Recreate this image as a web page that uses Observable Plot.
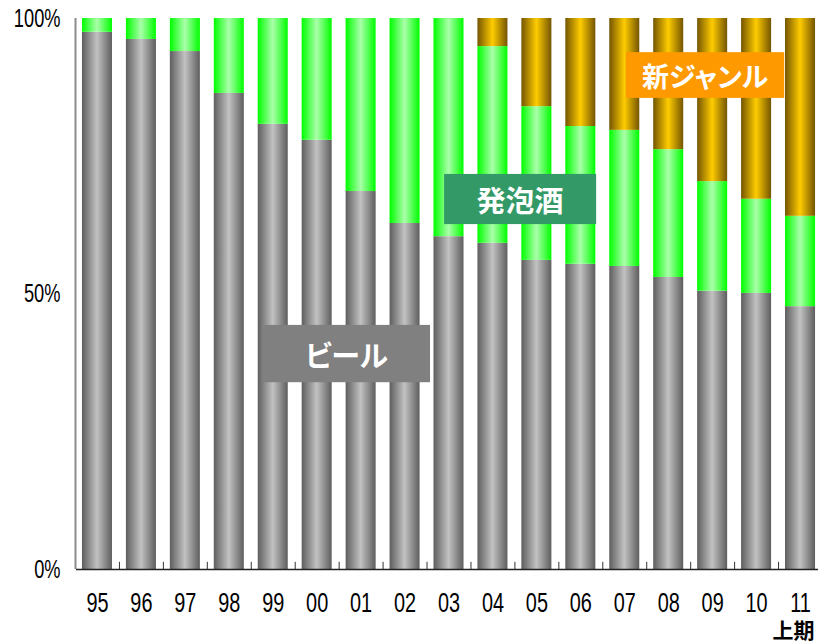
<!DOCTYPE html>
<html>
<head>
<meta charset="utf-8">
<script src="https://cdn.jsdelivr.net/npm/d3@7"></script>
<script src="https://cdn.jsdelivr.net/npm/@observablehq/plot@0.6"></script>
<style>
  html, body { margin: 0; padding: 0; background: #fff; }
  #chart { width: 818px; height: 642px; }
</style>
</head>
<body>
<div id="chart"></div>
<script>
// Category labels (fiscal years, '11 = first half)
const years = ["95","96","97","98","99","00","01","02","03","04","05","06","07","08","09","10","11"];
// Market share (%)
const beer      = [97.5, 96.2, 94.0, 86.4, 80.8, 77.9, 68.6, 62.8, 60.4, 59.2, 56.1, 55.4, 55.0, 53.0, 50.5, 50.1, 47.7];
const happoshu  = [ 2.5,  3.8,  6.0, 13.6, 19.2, 22.1, 31.4, 37.2, 39.6, 35.7, 27.9, 25.0, 24.7, 23.2, 19.9, 17.1, 16.4];
const shinGenre = [ 0.0,  0.0,  0.0,  0.0,  0.0,  0.0,  0.0,  0.0,  0.0,  5.1, 16.0, 19.6, 20.3, 23.8, 29.6, 32.8, 35.9];
// Y tick values
const yTicks = [0, 50, 100];
const seriesNames = ["ビール", "発泡酒", "新ジャンル"];
const subLabel = "上期";

const rows = years.map((year, i) => ({
  year,
  beer: beer[i],
  happo: happoshu[i],
  shin: shinGenre[i]
}));

const W = 818, H = 642;
const mTop = 18, mBottom = 73, mLeft = 76;
const xRange = [75, 822];
const step = (xRange[1] - xRange[0]) / years.length;
const gap = step * 0.317 / 2;

const sans = "'Liberation Sans', Arial, sans-serif";

const plot = Plot.plot({
  width: W,
  height: H,
  marginTop: mTop,
  marginBottom: mBottom,
  marginLeft: mLeft,
  marginRight: 0,
  style: { fontFamily: sans, background: "white", overflow: "visible" },
  x: { type: "band", domain: years, range: xRange, padding: 0, round: false, label: null },
  y: { domain: [0, 100], label: null },
  marks: [
    Plot.barY(rows, { x: "year", y1: 0, y2: "beer", fill: "url(#gGray)", insetLeft: gap, insetRight: gap }),
    Plot.barY(rows, { x: "year", y1: d => d.beer, y2: d => d.beer + d.happo, fill: "url(#gGreen)", insetLeft: gap, insetRight: gap }),
    Plot.barY(rows, { x: "year", y1: d => d.beer + d.happo, y2: d => d.beer + d.happo + d.shin, fill: "url(#gGold)", insetLeft: gap, insetRight: gap }),
    // y axis line at the left band boundary
    Plot.ruleX([years[0]], { x: d => d, y1: 0, y2: 100, dx: -step / 2, stroke: "#8c8c8c", strokeWidth: 2 }),
    // small ticks between categories
    Plot.ruleX(years.slice(1), { x: d => d, y1: 0, y2: 1.3, dx: -step / 2, stroke: "#333", strokeWidth: 1 }),
    Plot.ruleY([0], { stroke: "#222", strokeWidth: 1.5 }),
    Plot.axisY({ ticks: yTicks, tickFormat: d => d + "%", tickSize: 0, tickPadding: 16, fontSize: 25, fill: "#000" }),
    Plot.axisX({ tickSize: 0, tickPadding: 23, fontSize: 28, fill: "#000" }),
    Plot.text([subLabel], { x: () => years[years.length - 1], y: -11.2, dx: -7, text: d => d,
      fontSize: 21, fontWeight: "bold", fontFamily: "'Noto Sans CJK JP', sans-serif", fill: "#000" })
  ]
});

const svg = d3.select(plot);
const defs = svg.insert("defs", ":first-child");
function grad(id, edge, mid) {
  const g = defs.append("linearGradient").attr("id", id).attr("x1", "0%").attr("x2", "100%").attr("y1", "0%").attr("y2", "0%");
  g.append("stop").attr("offset", "0%").attr("stop-color", edge);
  g.append("stop").attr("offset", "50%").attr("stop-color", mid);
  g.append("stop").attr("offset", "100%").attr("stop-color", edge);
}
grad("gGray", "#5e5e5e", "#c2c2c2");
grad("gGreen", "#00ff00", "#aaffaa");
grad("gGold", "#745500", "#ffcc00");

// condense the axis tick labels horizontally (narrow font look)
svg.selectAll("g[aria-label='x-axis tick label'] text")
  .each(function () {
    const t = this.getAttribute("transform") || "";
    this.setAttribute("transform", t + " scale(0.71,1)");
  });
svg.selectAll("g[aria-label='y-axis tick label'] text")
  .each(function () {
    const t = this.getAttribute("transform") || "";
    this.setAttribute("transform", t + " scale(0.73,1)");
  });

// Series name labels (annotation boxes), positioned in band-step / percent units
const xs = plot.scale("x");
const ys = plot.scale("y");
const x0 = xs.range[0];
const annots = [
  { text: seriesNames[0], u1: 4.28, u2: 8.08, v1: 44.3, v2: 33.9, fill: "#808080", size: 29 },
  { text: seriesNames[1], u1: 8.40, u2: 11.86, v1: 71.7, v2: 62.6, fill: "#339966", size: 29 },
  { text: seriesNames[2], u1: 12.54, u2: 16.14, v1: 93.8, v2: 85.5, fill: "#ff9900", size: 27 }
];
const g = svg.append("g");
annots.forEach(a => {
  const px1 = x0 + a.u1 * step, px2 = x0 + a.u2 * step;
  const py1 = ys.apply(a.v1), py2 = ys.apply(a.v2);
  g.append("rect").attr("x", px1).attr("y", py1).attr("width", px2 - px1).attr("height", py2 - py1).attr("fill", a.fill);
  g.append("text").attr("x", (px1 + px2) / 2).attr("y", (py1 + py2) / 2)
    .attr("text-anchor", "middle").attr("dominant-baseline", "central")
    .attr("fill", "#fff").attr("font-size", a.size).attr("font-weight", "bold")
    .attr("font-family", "'Noto Sans CJK JP', sans-serif")
    .style("font-feature-settings", "'palt'")
    .text(a.text);
});

document.getElementById("chart").appendChild(plot);
</script>
</body>
</html>
